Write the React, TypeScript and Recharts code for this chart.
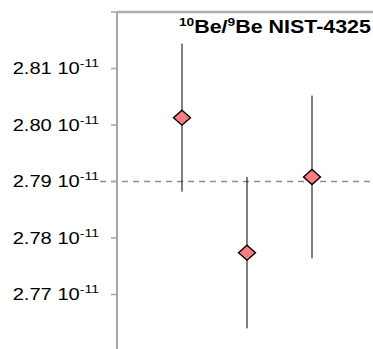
import React from 'react';
import { ComposedChart, Scatter, ErrorBar, XAxis, YAxis, ReferenceLine, CartesianGrid } from 'recharts';

// 10Be/9Be ratios (units of 1e-11) for three runs of the NIST-4325 standard
const runs = [1, 2, 3];
const ratio = [2.8013, 2.7774, 2.7908];
const sigma = [0.0131, 0.0134, 0.0144];

const yTicks = [2.77, 2.78, 2.79, 2.8, 2.81, 2.82];
const labelledTicks = [2.77, 2.78, 2.79, 2.8, 2.81];
const nominal = 2.79;
const yTop = 2.82;

const data = runs.map((run, i) => ({ run, ratio: ratio[i], err: sigma[i] }));

const FONT = '"Liberation Sans", Arial, sans-serif';

const Diamond = (props: any) => {
  const { cx, cy } = props;
  if (cx == null || cy == null) return null;
  const w = 8.5;
  const h = 7.5;
  return (
    <polygon
      points={`${cx},${cy - h} ${cx + w},${cy} ${cx},${cy + h} ${cx - w},${cy}`}
      fill="#FF7C80"
      stroke="#000"
      strokeWidth={1.4}
    />
  );
};

const TickLabel = (props: any) => {
  const { x, y, payload } = props;
  const v = payload.value;
  const shown = labelledTicks.some((t) => Math.abs(t - v) < 1e-9);
  return (
    <text
      transform={`translate(${x - 10},${y + 5.8}) scale(1.22,1)`}
      textAnchor="end"
      fontFamily={FONT}
      fontSize={16.5}
      fill="#000"
    >
      {shown ? (
        <>
          {v.toFixed(2)} 10
          <tspan fontSize={11.5} dy={-7}>-11</tspan>
        </>
      ) : null}
    </text>
  );
};

export default function App() {
  return (
    <div
      style={{
        position: 'absolute',
        left: 0,
        top: 0,
        width: 373,
        height: 349,
        overflow: 'hidden',
        background: '#fff',
      }}
    >
      <ComposedChart width={380} height={360} data={data} margin={{ top: 12, right: 3, bottom: 9, left: 0 }}>
        <CartesianGrid vertical={false} horizontal={false} />
        <XAxis type="number" dataKey="run" domain={[0, 4]} hide />
        <YAxis
          type="number"
          dataKey="ratio"
          width={117}
          domain={[2.76, 2.82]}
          ticks={yTicks}
          allowDataOverflow
          axisLine={{ stroke: '#A6A6A6', strokeWidth: 2 }}
          tickLine={{ stroke: '#A6A6A6', strokeWidth: 1.5 }}
          tickSize={6}
          tick={<TickLabel />}
        />
        {/* top border of the plot area */}
        <ReferenceLine y={yTop} stroke="#ADADAD" strokeWidth={2.5} ifOverflow="visible" />
        <ReferenceLine
          segment={[
            { x: -0.26, y: nominal },
            { x: 4, y: nominal },
          ]}
          stroke="#8C8C8C"
          strokeWidth={1.6}
          strokeDasharray="6 5"
          ifOverflow="visible"
        />
        <Scatter dataKey="ratio" shape={<Diamond />} isAnimationActive={false}>
          <ErrorBar dataKey="err" direction="y" width={0} stroke="#000" strokeWidth={1} isAnimationActive={false} />
        </Scatter>
      </ComposedChart>
      <div
        style={{
          position: 'absolute',
          left: 179,
          top: 18,
          fontFamily: FONT,
          fontWeight: 'bold',
          fontSize: 18,
          lineHeight: '18px',
          whiteSpace: 'nowrap',
          transform: 'scaleX(1.19)',
          transformOrigin: 'left top',
          color: '#000',
        }}
      >
        <span style={{ fontSize: 11.5, position: 'relative', top: -7 }}>10</span>Be/
        <span style={{ fontSize: 11.5, position: 'relative', top: -7 }}>9</span>Be NIST-4325
      </div>
    </div>
  );
}
